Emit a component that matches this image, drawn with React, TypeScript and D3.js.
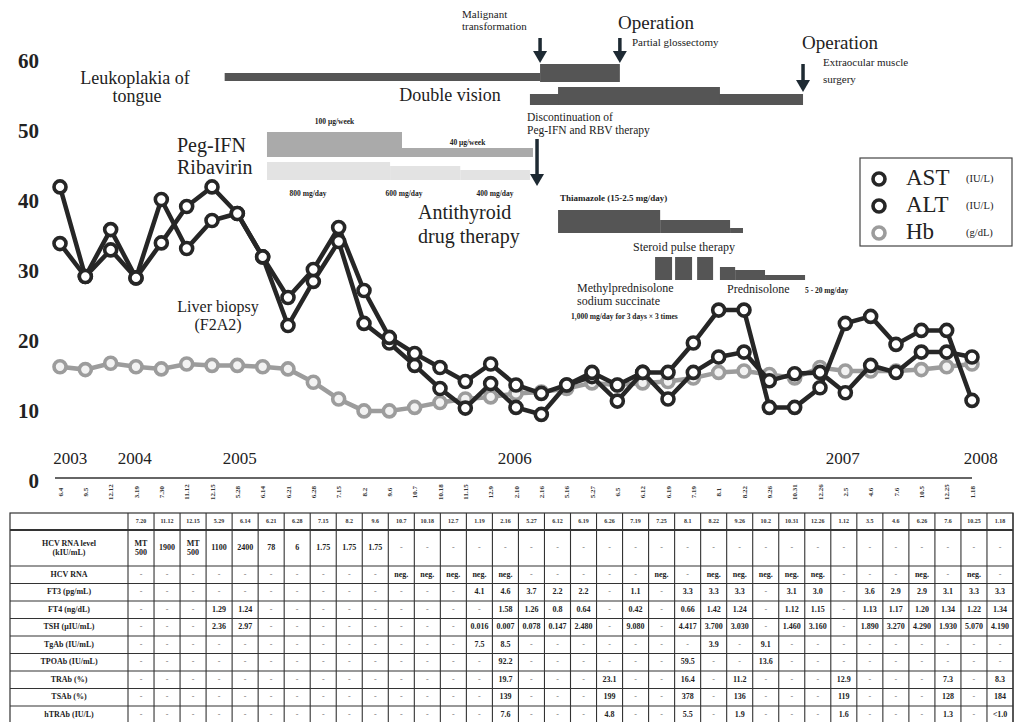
import * as d3 from "d3";

// visit dates on the time axis (index = position)
const visitDates = [
  "6.4", "9.5", "12.12", "3.19", "7.30", "11.12", "12.15", "5.28", "6.14", "6.21",
  "6.28", "7.15", "8.2", "9.6", "10.7", "10.18", "11.15", "12.9", "2.10", "2.16",
  "5.16", "5.27", "6.5", "6.12", "6.19", "7.19", "8.1", "8.22", "9.26", "10.31",
  "12.26", "2.5", "4.6", "7.6", "10.5", "12.25", "1.18",
];
const yearLabels = ["2003", "2004", "2005", "2006", "2007", "2008"];
const yearAt = [0.4, 2.95, 7.1, 17.95, 30.9, 36.35];

const astValues = [
  42.3, 29.5, 36.2, 29.3, 40.5, 33.5, 37.5, 38.5, 32.3, 26.5, 30.5, 36.5, 27.5, 20.8, 18.5, 16.5, 14.5, 17,
  14, 12.8, 14, 15.8, 14, 15.8, 15.8, 20, 24.7, 24.7, 10.8, 10.8, 13.6, 22.8, 23.8, 19.8, 21.8, 21.8, 11.8,
];
const altValues = [
  34.2, 29.5, 33.3, 29.3, 34.3, 39.5, 42.3, 38.5, 32.3, 22.5, 28.8, 34.5, 22.8, 20, 16.8, 13.5, 10.7, 14.2,
  10.8, 9.8, 14, 15.2, 11.7, 15.8, 12, 15.8, 18, 18.7, 14.6, 15.6, 15.8, 12.9, 16.8, 15.8, 18.7, 18.7, 18,
];
const hbValues = [
  16.6, 16.2, 17.1, 16.6, 16.3, 17, 16.8, 16.8, 16.6, 16.3, 14.4, 12, 10.3, 10.3, 10.8, 11.5, 12, 12.3,
  12.8, 13, 13.5, 14.3, 14, 14.3, 14.5, 15, 15.8, 16, 15.5, 15, 16.5, 16, 16, 16, 16.2, 16.6, 17,
];
const yTicks = [0, 10, 20, 30, 40, 50, 60];

// treatment / event periods, in positions of the time axis
const leukoplakiaStart = 6.5;
const malignantAt = 18.95;
const glossectomyAt = 22.1;
const doubleVision = [18.55, 29.33];
const doubleVisionPeak = [19.66, 26.05];
const pegIfnSteps = [[8.17, 13.5], [13.5, 18.67]];
const pegIfnDoses = ["100 μg/week", "40 μg/week"];
const ribavirinSteps = [[8.17, 13.03], [13.03, 15.8], [15.8, 18.55]];
const ribavirinDoses = ["800 mg/day", "600 mg/day", "400 mg/day"];
const stopIfnAt = 18.83;
const thiamazoleSteps = [[19.66, 23.69], [23.69, 26.45], [26.45, 26.96]];
const pulseCourses = [[23.49, 24.16], [24.28, 24.95], [25.15, 25.78]];
const prednisoloneSteps = [[26.05, 26.65], [26.65, 27.83], [27.83, 29.41]];

// laboratory table
const tableDates = [
  "7.20", "11.12", "12.15", "5.29", "6.14", "6.21", "6.28", "7.15", "8.2", "9.6", "10.7", "10.18",
  "12.7", "1.19", "2.16", "5.27", "6.12", "6.19", "6.26", "7.19", "7.25", "8.1", "8.22", "9.26",
  "10.2", "10.31", "12.26", "1.12", "3.5", "4.6", "6.26", "7.6", "10.25", "1.18",
];
const rowLabels = [
  ["HCV RNA level", "(kIU/mL)"], ["HCV RNA"], ["FT3 (pg/mL)"], ["FT4 (ng/dL)"], ["TSH (μIU/mL)"],
  ["TgAb (IU/mL)"], ["TPOAb (IU/mL)"], ["TRAb (%)"], ["TSAb (%)"], ["hTRAb (IU/L)"],
];
const hcvLevel = ["MT|500", "1900", "MT|500", "1100", "2400", "78", "6", "1.75", "1.75", "1.75", "-", "-", "-", "-", "-", "-", "-", "-", "-", "-", "-", "-", "-", "-", "-", "-", "-", "-", "-", "-", "-", "-", "-", "-"];
const hcvRna = ["-", "-", "-", "-", "-", "-", "-", "-", "-", "-", "neg.", "neg.", "neg.", "neg.", "neg.", "-", "-", "-", "-", "-", "neg.", "-", "neg.", "neg.", "neg.", "neg.", "neg.", "-", "-", "-", "neg.", "-", "neg.", "-"];
const ft3 = ["-", "-", "-", "-", "-", "-", "-", "-", "-", "-", "-", "-", "-", "4.1", "4.6", "3.7", "2.2", "2.2", "-", "1.1", "-", "3.3", "3.3", "3.3", "-", "3.1", "3.0", "-", "3.6", "2.9", "2.9", "3.1", "3.3", "3.3"];
const ft4 = ["-", "-", "-", "1.29", "1.24", "-", "-", "-", "-", "-", "-", "-", "-", "-", "1.58", "1.26", "0.8", "0.64", "-", "0.42", "-", "0.66", "1.42", "1.24", "-", "1.12", "1.15", "-", "1.13", "1.17", "1.20", "1.34", "1.22", "1.34"];
const tsh = ["-", "-", "-", "2.36", "2.97", "-", "-", "-", "-", "-", "-", "-", "-", "0.016", "0.007", "0.078", "0.147", "2.480", "-", "9.080", "-", "4.417", "3.700", "3.030", "-", "1.460", "3.160", "-", "1.890", "3.270", "4.290", "1.930", "5.070", "4.190"];
const tgAb = ["-", "-", "-", "-", "-", "-", "-", "-", "-", "-", "-", "-", "-", "7.5", "8.5", "-", "-", "-", "-", "-", "-", "-", "3.9", "-", "9.1", "-", "-", "-", "-", "-", "-", "-", "-", "-"];
const tpoAb = ["-", "-", "-", "-", "-", "-", "-", "-", "-", "-", "-", "-", "-", "-", "92.2", "-", "-", "-", "-", "-", "-", "59.5", "-", "-", "13.6", "-", "-", "-", "-", "-", "-", "-", "-", "-"];
const trAb = ["-", "-", "-", "-", "-", "-", "-", "-", "-", "-", "-", "-", "-", "-", "19.7", "-", "-", "-", "23.1", "-", "-", "16.4", "-", "11.2", "-", "-", "-", "12.9", "-", "-", "-", "7.3", "-", "8.3"];
const tsAb = ["-", "-", "-", "-", "-", "-", "-", "-", "-", "-", "-", "-", "-", "-", "139", "-", "-", "-", "199", "-", "-", "378", "-", "136", "-", "-", "-", "119", "-", "-", "-", "128", "-", "184"];
const htrAb = ["-", "-", "-", "-", "-", "-", "-", "-", "-", "-", "-", "-", "-", "-", "7.6", "-", "-", "-", "4.8", "-", "-", "5.5", "-", "1.9", "-", "-", "-", "1.6", "-", "-", "-", "1.3", "-", "<1.0"];
const tableRows = [hcvLevel, hcvRna, ft3, ft4, tsh, tgAb, tpoAb, trAb, tsAb, htrAb];

const serif = "'Liberation Serif', 'DejaVu Serif', serif";
const DARK = "#262626";
const BAR = "#555";

function Arrow({ x0, y0, y1 }: { x0: number; y0: number; y1: number }) {
  return (
    <g>
      <line x1={x0} x2={x0} y1={y0} y2={y1 - 10} stroke="#1e2a33" strokeWidth={3.5} />
      <path d={`M${x0 - 7},${y1 - 12} L${x0 + 7},${y1 - 12} L${x0},${y1} Z`} fill="#1e2a33" />
    </g>
  );
}

export default function App() {
  const W = 1017;
  const H = 722;
  const x = d3.scaleLinear().domain([0, 36]).range([60, 972]);
  const y = d3.scaleLinear().domain([0, 60]).range([483, 63]);
  const line = d3
    .line<number>()
    .x((_, i) => x(i))
    .y((d) => y(d));

  // table layout
  const tLeft = 10;
  const tLabelRight = 128;
  const tRight = 1013;
  const tTop = 513;
  const headerH = 17;
  const levelH = 36;
  const rowH = 17.5;
  const col = d3
    .scaleBand<number>()
    .domain(d3.range(tableDates.length))
    .range([tLabelRight, tRight]);
  const rowTop = (r: number) => (r === 0 ? tTop + headerH : tTop + headerH + levelH + (r - 1) * rowH);
  const rowHeight = (r: number) => (r === 0 ? levelH : rowH);

  const markers = (vals: number[], stroke: string, fill: string) =>
    vals.map((v, i) => (
      <circle key={i} cx={x(i)} cy={y(v)} r={6} fill={fill} stroke={stroke} strokeWidth={3.6} />
    ));

  return (
    <div style={{ position: "absolute", left: 0, top: 0 }}>
      <svg width={W} height={H} fontFamily={serif}>
        <rect width={W} height={H} fill="#fff" />

        {/* y axis labels */}
        {yTicks.map((t) => (
          <text key={t} x={39} y={y(t)} textAnchor="end" dominantBaseline="middle" fontSize={21} fontWeight="bold" fill="#222">
            {t}
          </text>
        ))}

        {/* time axis */}
        <line x1={55} x2={x(36)} y1={478} y2={478} stroke="#333" strokeWidth={1.5} />
        {yearLabels.map((l, i) => (
          <text key={l} x={x(yearAt[i])} y={460} textAnchor="middle" dominantBaseline="middle" fontSize={17} fill="#222">
            {l}
          </text>
        ))}
        {visitDates.map((d, i) => (
          <text key={i} transform={`translate(${x(i) + 2.5},492) rotate(-90)`} textAnchor="middle" fontSize={7} fontWeight="bold" fill="#333">
            {d}
          </text>
        ))}

        {/* leukoplakia */}
        <text x={135} y={80} textAnchor="middle" dominantBaseline="middle" fontSize={18} fill="#222">Leukoplakia of</text>
        <text x={137} y={98} textAnchor="middle" dominantBaseline="middle" fontSize={18} fill="#222">tongue</text>
        <rect x={x(leukoplakiaStart)} y={73} width={x(malignantAt) - x(leukoplakiaStart)} height={8} fill={BAR} />
        <rect x={x(malignantAt)} y={64} width={x(glossectomyAt) - x(malignantAt)} height={18} fill={BAR} />
        <text x={462} y={18} fontSize={11} fill="#222">Malignant</text>
        <text x={462} y={30} fontSize={11} fill="#222">transformation</text>
        <Arrow x0={x(malignantAt)} y0={38} y1={63} />
        <Arrow x0={x(glossectomyAt)} y0={38} y1={63} />
        <text x={618} y={25} dominantBaseline="middle" fontSize={19} fill="#222">Operation</text>
        <text x={632} y={43} dominantBaseline="middle" fontSize={11} fill="#222">Partial glossectomy</text>

        {/* double vision */}
        <text x={450} y={97} textAnchor="middle" dominantBaseline="middle" fontSize={18} fill="#222">Double vision</text>
        <rect x={x(doubleVision[0])} y={94} width={x(doubleVision[1]) - x(doubleVision[0])} height={11} fill={BAR} />
        <rect x={x(doubleVisionPeak[0])} y={87} width={x(doubleVisionPeak[1]) - x(doubleVisionPeak[0])} height={18} fill={BAR} />
        <Arrow x0={x(doubleVision[1])} y0={64} y1={92} />
        <text x={802} y={45} dominantBaseline="middle" fontSize={19} fill="#222">Operation</text>
        <text x={823} y={63} dominantBaseline="middle" fontSize={11} fill="#222">Extraocular muscle</text>
        <text x={823} y={80} dominantBaseline="middle" fontSize={11} fill="#222">surgery</text>

        {/* interferon / ribavirin */}
        <text x={177} y={147} dominantBaseline="middle" fontSize={20} fill="#222">Peg-IFN</text>
        <text x={177} y={169} dominantBaseline="middle" fontSize={20} fill="#222">Ribavirin</text>
        {pegIfnSteps.map(([a, b], i) => (
          <rect key={i} x={x(a)} y={i === 0 ? 132 : 148} width={x(b) - x(a)} height={i === 0 ? 25 : 9} fill="#aaa" />
        ))}
        <text x={(x(pegIfnSteps[0][0]) + x(pegIfnSteps[0][1])) / 2} y={124} textAnchor="middle" fontSize={7.5} fontWeight="bold" fill="#222">{pegIfnDoses[0]}</text>
        <text x={(x(pegIfnSteps[1][0]) + x(pegIfnSteps[1][1])) / 2} y={145} textAnchor="middle" fontSize={7.5} fontWeight="bold" fill="#222">{pegIfnDoses[1]}</text>
        {ribavirinSteps.map(([a, b], i) => (
          <rect key={i} x={x(a)} y={162 + i * 4} width={x(b) - x(a)} height={18 - i * 4} fill="#e3e3e3" />
        ))}
        {ribavirinDoses.map((d, i) => (
          <text key={d} x={[308, 404, 495][i]} y={196} textAnchor="middle" fontSize={7.5} fontWeight="bold" fill="#222">{d}</text>
        ))}
        <text x={527} y={118} dominantBaseline="middle" fontSize={11.5} fill="#222">Discontinuation of</text>
        <text x={527} y={131} dominantBaseline="middle" fontSize={11.5} fill="#222">Peg-IFN and RBV therapy</text>
        <Arrow x0={x(stopIfnAt)} y0={139} y1={186} />

        {/* antithyroid drug */}
        <text x={418} y={214} dominantBaseline="middle" fontSize={20} fill="#222">Antithyroid</text>
        <text x={418} y={238} dominantBaseline="middle" fontSize={20} fill="#222">drug therapy</text>
        <text x={560} y={201} fontSize={9} fontWeight="bold" fill="#222">Thiamazole (15-2.5 mg/day)</text>
        {thiamazoleSteps.map(([a, b], i) => (
          <rect key={i} x={x(a)} y={[210, 220, 228][i]} width={x(b) - x(a)} height={[23, 13, 5][i]} fill={BAR} />
        ))}

        {/* steroids */}
        <text x={633} y={248} dominantBaseline="middle" fontSize={12} fill="#222">Steroid pulse therapy</text>
        {pulseCourses.map(([a, b], i) => (
          <rect key={i} x={x(a)} y={257} width={x(b) - x(a)} height={23} fill={BAR} />
        ))}
        {prednisoloneSteps.map(([a, b], i) => (
          <rect key={i} x={x(a)} y={[267, 270, 275][i]} width={x(b) - x(a)} height={[13, 10, 5][i]} fill={BAR} />
        ))}
        <text x={577} y={289} dominantBaseline="middle" fontSize={12} fill="#222">Methylprednisolone</text>
        <text x={577} y={302} dominantBaseline="middle" fontSize={12} fill="#222">sodium succinate</text>
        <text x={571} y={317} dominantBaseline="middle" fontSize={7.5} fontWeight="bold" fill="#222">1,000 mg/day  for 3 days × 3 times</text>
        <text x={727} y={290} dominantBaseline="middle" fontSize={12} fill="#222">Prednisolone</text>
        <text x={805} y={291} dominantBaseline="middle" fontSize={7.5} fontWeight="bold" fill="#222">5 - 20 mg/day</text>

        <text x={218} y={308} textAnchor="middle" dominantBaseline="middle" fontSize={16} fill="#222">Liver biopsy</text>
        <text x={218} y={326} textAnchor="middle" dominantBaseline="middle" fontSize={16} fill="#222">(F2A2)</text>

        {/* series */}
        <path d={line(hbValues) ?? ""} fill="none" stroke="#9c9c9c" strokeWidth={4.5} />
        {markers(hbValues, "#9c9c9c", "#f2f2f2")}
        <path d={line(altValues) ?? ""} fill="none" stroke={DARK} strokeWidth={4.5} />
        <path d={line(astValues) ?? ""} fill="none" stroke={DARK} strokeWidth={4.5} />
        {markers(altValues, DARK, "#fff")}
        {markers(astValues, DARK, "#fff")}

        {/* legend */}
        <rect x={860} y={158} width={152} height={88} fill="#fff" stroke="#444" strokeWidth={1.2} />
        {[
          ["AST", "(IU/L)", DARK],
          ["ALT", "(IU/L)", DARK],
          ["Hb", "(g/dL)", "#9c9c9c"],
        ].map(([name, unit, c], i) => (
          <g key={name} transform={`translate(0,${179 + i * 27})`}>
            <circle cx={879} cy={0} r={6} fill="#fff" stroke={c} strokeWidth={3.6} />
            <text x={906} y={1} dominantBaseline="middle" fontSize={23} fill="#222">{name}</text>
            <text x={966} y={1} dominantBaseline="middle" fontSize={10.5} fill="#222">{unit}</text>
          </g>
        ))}

        {/* table */}
        <g>
          <rect x={tLeft} y={tTop} width={tRight - tLeft} height={H - tTop + 5} fill="#fff" stroke="#333" strokeWidth={1.2} />
          {tableDates.map((d, c) => (
            <text key={c} x={(col(c) ?? 0) + col.bandwidth() / 2} y={tTop + headerH / 2} textAnchor="middle" dominantBaseline="middle" fontSize={6} fontWeight="bold" fill="#333">{d}</text>
          ))}
          <line x1={tLeft} x2={tRight} y1={tTop + headerH} y2={tTop + headerH} stroke="#333" strokeWidth={2} />
          {tableRows.map((_, r) => (
            <line key={r} x1={tLeft} x2={tRight} y1={rowTop(r) + rowHeight(r)} y2={rowTop(r) + rowHeight(r)} stroke="#333" strokeWidth={1.2} />
          ))}
          {d3.range(tableDates.length + 1).map((c) => {
            const xx = c === tableDates.length ? tRight : col(c) ?? 0;
            return <line key={c} x1={xx} x2={xx} y1={tTop} y2={H} stroke="#333" strokeWidth={1.1} />;
          })}
          {rowLabels.map((lab, r) => (
            <text key={r} x={(tLeft + tLabelRight) / 2} y={rowTop(r) + rowHeight(r) / 2 - (lab.length - 1) * 4.5} textAnchor="middle" dominantBaseline="middle" fontSize={8} fontWeight="bold" fill="#222">
              {lab.map((s, k) => (
                <tspan key={k} x={(tLeft + tLabelRight) / 2} dy={k === 0 ? 0 : 9}>{s}</tspan>
              ))}
            </text>
          ))}
          {tableRows.map((row, r) =>
            row.map((v, c) => {
              const parts = v.split("|");
              const cx = (col(c) ?? 0) + col.bandwidth() / 2;
              const cy = rowTop(r) + rowHeight(r) / 2 - (parts.length - 1) * 4.5;
              return (
                <text key={`${r}-${c}`} x={cx} y={cy} textAnchor="middle" dominantBaseline="middle" fontSize={8} fontWeight="bold" fill={v === "-" ? "#888" : "#222"}>
                  {parts.map((s, k) => (
                    <tspan key={k} x={cx} dy={k === 0 ? 0 : 9}>{s}</tspan>
                  ))}
                </text>
              );
            })
          )}
        </g>
      </svg>
    </div>
  );
}
